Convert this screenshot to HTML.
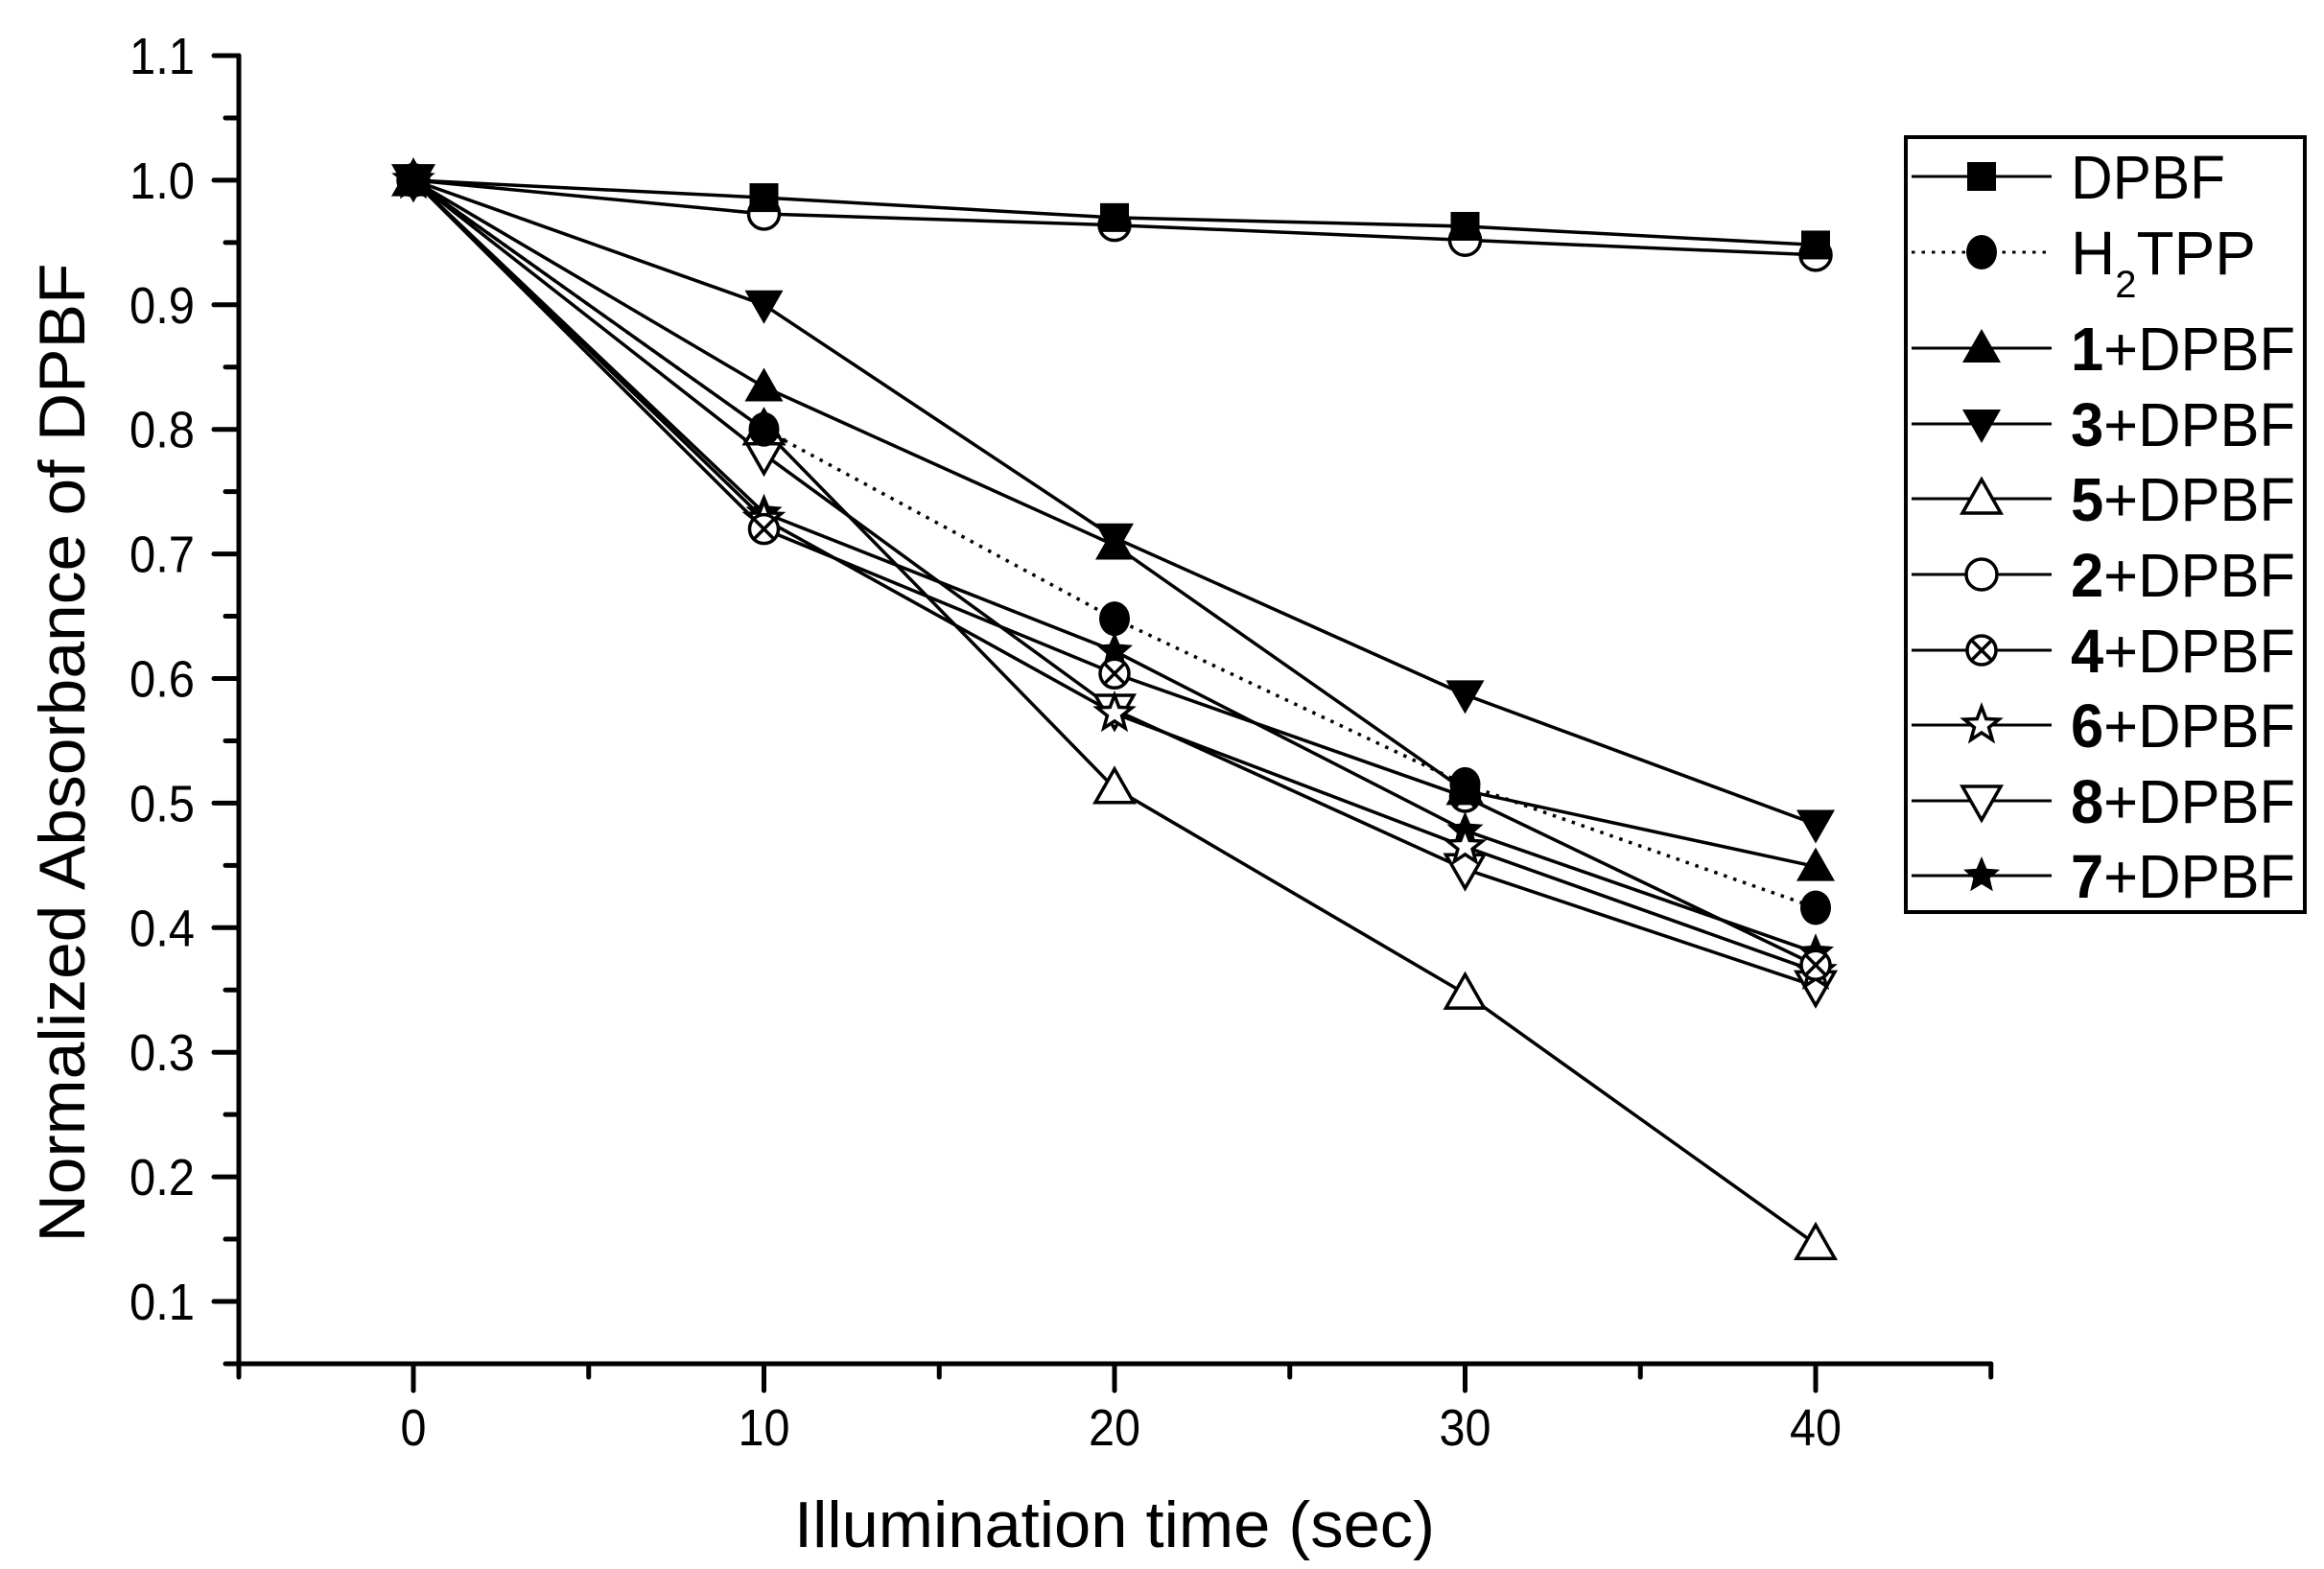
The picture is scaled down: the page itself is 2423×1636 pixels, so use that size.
<!DOCTYPE html>
<html><head><meta charset="utf-8">
<style>
html,body{margin:0;padding:0;background:#fff;}
svg{display:block;font-family:"Liberation Sans",Arial,sans-serif;}
</style></head>
<body>
<svg id="chart" width="2423" height="1636" viewBox="0 0 2423 1636" xmlns="http://www.w3.org/2000/svg">
<rect x="0" y="0" width="2423" height="1636" fill="#fff"/>
<g id="axes"></g>
<g id="series"></g>
<g id="legend"></g>
<text x="1162" y="1613" text-anchor="middle" font-size="68" textLength="668" lengthAdjust="spacingAndGlyphs">Illumination time (sec)</text>
<text transform="translate(88,785) rotate(-90)" x="0" y="0" text-anchor="middle" font-size="68" textLength="1021" lengthAdjust="spacingAndGlyphs">Normalized Absorbance of DPBF</text>
</svg>
<script>
const times = [0, 10, 20, 30, 40];
const xTicks = [0, 10, 20, 30, 40];
const xTickLabels = ["0", "10", "20", "30", "40"];
const yTicks = [0.1, 0.2, 0.3, 0.4, 0.5, 0.6, 0.7, 0.8, 0.9, 1.0, 1.1];
const yTickLabels = ["0.1", "0.2", "0.3", "0.4", "0.5", "0.6", "0.7", "0.8", "0.9", "1.0", "1.1"];
const seriesNames = ["DPBF", "H2TPP", "1+DPBF", "3+DPBF", "5+DPBF", "2+DPBF", "4+DPBF", "6+DPBF", "8+DPBF", "7+DPBF"];
const valsDPBF = [1.0, 0.986, 0.970, 0.963, 0.948];
const valsH2TPP = [1.0, 0.800, 0.648, 0.515, 0.416];
const vals1 = [1.0, 0.834, 0.707, 0.510, 0.449];
const vals3 = [1.0, 0.900, 0.713, 0.587, 0.483];
const vals5 = [1.0, 0.800, 0.512, 0.347, 0.146];
const vals2 = [1.0, 0.973, 0.964, 0.952, 0.940];
const vals4 = [1.0, 0.720, 0.604, 0.505, 0.370];
const vals6 = [1.0, 0.728, 0.572, 0.465, 0.365];
const vals8 = [1.0, 0.780, 0.575, 0.447, 0.353];
const vals7 = [1.0, 0.733, 0.622, 0.478, 0.380];

const NS = "http://www.w3.org/2000/svg";
const X0 = 431, XS = 36.55, Y0 = 58, YS = 1299;
function X(t){ return X0 + t * XS; }
function Y(v){ return Y0 + (1.1 - v) * YS; }
function mk(tag, attrs, parent){
  const e = document.createElementNS(NS, tag);
  for (const k in attrs) e.setAttribute(k, attrs[k]);
  parent.appendChild(e);
  return e;
}
const axes = document.getElementById("axes");
const AX = 249, AY = 1422;
let e;
e = mk("line", {x1: AX, y1: Y(1.1), x2: AX, y2: AY + 14, stroke: "#000", "stroke-width": 5, "stroke-linecap": "round"}, axes);


e = mk("line", {x1: AX - 14, y1: AY, x2: X(45), y2: AY, stroke: "#000", "stroke-width": 5, "stroke-linecap": "round"}, axes);


for (let i = 0; i < yTicks.length; i++) {
  const y = Y(yTicks[i]);
  e = mk("line", {x1: AX - 26, y1: y, x2: AX, y2: y, stroke: "#000", "stroke-width": 5, "stroke-linecap": "round"}, axes);
  
  
  const lab = mk("text", {x: 203, y: y + 19, "text-anchor": "end", "font-size": 54, textLength: 68, lengthAdjust: "spacingAndGlyphs"}, axes);
  lab.textContent = yTickLabels[i];
  
  
  if (i < yTicks.length - 1) {
    const ym = Y(yTicks[i] + 0.05);
    e = mk("line", {x1: AX - 14, y1: ym, x2: AX, y2: ym, stroke: "#000", "stroke-width": 5, "stroke-linecap": "round"}, axes);
    
    
  }
}
for (let i = 0; i < xTicks.length; i++) {
  const x = X(xTicks[i]);
  e = mk("line", {x1: x, y1: AY, x2: x, y2: AY + 28, stroke: "#000", "stroke-width": 5, "stroke-linecap": "round"}, axes);
  
  
  const lab = mk("text", {x: x, y: 1507, "text-anchor": "middle", "font-size": 54, textLength: xTickLabels[i].length * 27, lengthAdjust: "spacingAndGlyphs"}, axes);
  lab.textContent = xTickLabels[i];
  
  
}
for (let t = 5; t <= 45; t += 10) {
  e = mk("line", {x1: X(t), y1: AY, x2: X(t), y2: AY + 14, stroke: "#000", "stroke-width": 5, "stroke-linecap": "round"}, axes);
  
  
}

function starPts(cx, cy, R, r){
  const p = [];
  for (let k = 0; k < 10; k++) {
    const a = -Math.PI / 2 + k * Math.PI / 5;
    const rr = k % 2 ? r : R;
    p.push((cx + rr * Math.cos(a)).toFixed(1) + "," + (cy + rr * Math.sin(a)).toFixed(1));
  }
  return p.join(" ");
}
function marker(type, cx, cy, g){
  const sw = 3.5;
  let m;
  if (type === "square") m = mk("rect", {x: cx - 15, y: cy - 15, width: 30, height: 30, fill: "#000"}, g);
  else if (type === "fcircle") m = mk("ellipse", {cx: cx, cy: cy, rx: 16, ry: 18, fill: "#000"}, g);
  else if (type === "ocircle") m = mk("ellipse", {cx: cx, cy: cy, rx: 16, ry: 16, fill: "#fff", stroke: "#000", "stroke-width": sw}, g);
  else if (type === "ftri") m = mk("polygon", {points: `${cx},${cy-20} ${cx+20},${cy+15} ${cx-20},${cy+15}`, fill: "#000"}, g);
  else if (type === "otri") m = mk("polygon", {points: `${cx},${cy-20} ${cx+20},${cy+15} ${cx-20},${cy+15}`, fill: "#fff", stroke: "#000", "stroke-width": sw}, g);
  else if (type === "fdtri") m = mk("polygon", {points: `${cx},${cy+20} ${cx+20},${cy-15} ${cx-20},${cy-15}`, fill: "#000"}, g);
  else if (type === "odtri") m = mk("polygon", {points: `${cx},${cy+20} ${cx+20},${cy-15} ${cx-20},${cy-15}`, fill: "#fff", stroke: "#000", "stroke-width": sw}, g);
  else if (type === "xcircle") {
    m = mk("g", {}, g);
    mk("ellipse", {cx: cx, cy: cy, rx: 15, ry: 15, fill: "#fff", stroke: "#000", "stroke-width": sw}, m);
    mk("path", {d: `M${cx-11},${cy-11} L${cx+11},${cy+11} M${cx+11},${cy-11} L${cx-11},${cy+11}`, stroke: "#000", "stroke-width": sw}, m);
  }
  else if (type === "ostar") m = mk("polygon", {points: starPts(cx, cy, 19, 8), fill: "#fff", stroke: "#000", "stroke-width": sw}, g);
  else if (type === "fstar") m = mk("polygon", {points: starPts(cx, cy, 20, 9), fill: "#000"}, g);
  
  
  return m;
}

const seriesVals = [valsDPBF, valsH2TPP, vals1, vals3, vals5, vals2, vals4, vals6, vals8, vals7];
const seriesMarkers = ["square", "fcircle", "ftri", "fdtri", "otri", "ocircle", "xcircle", "ostar", "odtri", "fstar"];
const sg = document.getElementById("series");
for (let s = seriesVals.length - 1; s >= 0; s--) {
  const g = mk("g", {}, sg);
  
  
  const pts = times.map((t, i) => X(t).toFixed(1) + "," + Y(seriesVals[s][i]).toFixed(1)).join(" ");
  const attrs = {points: pts, fill: "none", stroke: "#000", "stroke-width": 3.5};
  if (s === 1) attrs["stroke-dasharray"] = "3.5,7";
  const pl = mk("polyline", attrs, g);
  
  
  times.forEach((t, i) => marker(seriesMarkers[s], X(t), Y(seriesVals[s][i]), g));
}

const lg = document.getElementById("legend");
e = mk("rect", {x: 1987, y: 143, width: 416, height: 808, fill: "#fff", stroke: "#000", "stroke-width": 4}, lg);


const rowY = [184, 263, 363, 442, 520, 599, 678, 756, 835, 913];
for (let s = 0; s < seriesNames.length; s++) {
  const y = rowY[s];
  const g = mk("g", {}, lg);
  
  
  const la = {x1: 1993, y1: y, x2: 2139, y2: y, stroke: "#000", "stroke-width": 3};
  if (s === 1) la["stroke-dasharray"] = "3.5,7";
  mk("line", la, g);
  marker(seriesMarkers[s], 2066, y, g);
  const t = mk("text", {x: 2159, y: y + 23, "font-size": 64}, g);
  
  
  if (s === 0) { t.setAttribute("textLength", 161); t.setAttribute("lengthAdjust", "spacingAndGlyphs"); t.textContent = "DPBF"; }
  else if (s === 1) {
    const a = mk("tspan", {}, t); a.textContent = "H";
    const b = mk("tspan", {dy: 24, "font-size": 40}, t); b.textContent = "2";
    const c = mk("tspan", {dy: -24}, t); c.textContent = "TPP";
  } else {
    const num = seriesNames[s].split("+")[0];
    t.setAttribute("textLength", 234); t.setAttribute("lengthAdjust", "spacingAndGlyphs");
    const a = mk("tspan", {"font-weight": "bold"}, t); a.textContent = num;
    const b = mk("tspan", {}, t); b.textContent = "+DPBF";
  }
}
</script>
</body></html>
